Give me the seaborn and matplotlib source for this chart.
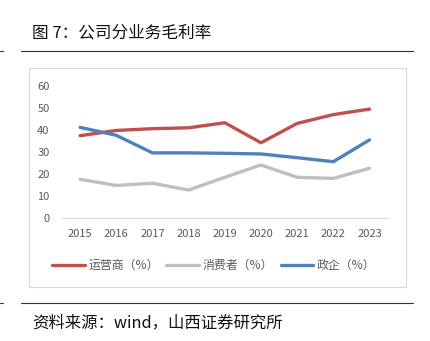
import matplotlib
matplotlib.use("Agg")
import matplotlib.pyplot as plt
from matplotlib.lines import Line2D
from matplotlib.patches import Rectangle
import pandas as pd
import seaborn as sns

# Gross margin by business line, 2015-2023 (%)
years = [2015, 2016, 2017, 2018, 2019, 2020, 2021, 2022, 2023]
operator = [37.4, 39.8, 40.6, 41.0, 43.3, 34.2, 43.0, 47.0, 49.5]
consumer = [17.6, 14.8, 15.8, 12.7, 18.5, 24.1, 18.5, 18.0, 22.6]
enterprise = [41.2, 37.6, 29.6, 29.6, 29.4, 29.1, 27.4, 25.6, 35.5]
series_names = ["运营商（%）", "消费者（%）", "政企（%）"]
colors = ["#C0504D", "#BFBFBF", "#4F81BD"]
y_ticks = [0, 10, 20, 30, 40, 50, 60]

sns.set_theme(style="white")
plt.rcParams["font.family"] = ["Noto Sans CJK SC", "DejaVu Sans"]

df = pd.DataFrame({
    "年份": years * 3,
    "毛利率": operator + consumer + enterprise,
    "业务": [series_names[0]] * 9 + [series_names[1]] * 9 + [series_names[2]] * 9,
})

W, H = 431, 341
fig = plt.figure(figsize=(W / 100, H / 100), dpi=100)
ax = fig.add_axes([62 / W, 1 - 218 / H, (387.6 - 62) / W, (218 - 86) / H])

sns.lineplot(data=df, x="年份", y="毛利率", hue="业务", palette=colors,
             linewidth=2.4, ax=ax, legend=False)

ax.set_xlim(2014.5, 2023.5)
ax.set_ylim(0, 60)
ax.set_xticks(years)
ax.set_yticks(y_ticks)
ax.set_xlabel("")
ax.set_ylabel("")
for s in ["top", "right", "left"]:
    ax.spines[s].set_visible(False)
ax.spines["bottom"].set_color("#D9D9D9")
ax.spines["bottom"].set_linewidth(0.9)
ax.tick_params(axis="both", length=0, labelsize=8, labelcolor="#595959")
ax.tick_params(axis="x", pad=8)
ax.tick_params(axis="y", pad=9)
ax.patch.set_alpha(0)

# Chart frame
fig.add_artist(Rectangle((29.5 / W, 1 - 287.3 / H), (405.7 - 29.5) / W, (287.3 - 68) / H,
                         transform=fig.transFigure, fill=False,
                         edgecolor="#D9D9D9", linewidth=0.8))

# Legend
handles = [Line2D([0], [0], color=c, linewidth=2.4) for c in colors]
fig.legend(handles, series_names, loc="center", bbox_to_anchor=(214 / W, 1 - 265.7 / H),
           ncol=3, frameon=False, fontsize=8.6, labelcolor="#595959",
           handlelength=2.7, handletextpad=0.35, columnspacing=0.6)

# Header and footer
fig.text(32 / W, 1 - 33 / H, "图 7：公司分业务毛利率", fontsize=12, color="#111111",
         va="center", ha="left")
fig.add_artist(Line2D([21 / W, 413 / W], [1 - 51 / H] * 2, color="#333333", linewidth=0.8))
fig.add_artist(Line2D([0, 3 / W], [1 - 51 / H] * 2, color="#333333", linewidth=0.8))
fig.add_artist(Line2D([21 / W, 413 / W], [1 - 303.3 / H] * 2, color="#333333", linewidth=0.8))
fig.add_artist(Line2D([0, 3 / W], [1 - 303.3 / H] * 2, color="#333333", linewidth=0.8))
fig.text(32 / W, 1 - 323 / H, "资料来源：wind，山西证券研究所", fontsize=11.8, color="#111111",
         va="center", ha="left")

fig.savefig("out.png", dpi=100, facecolor="white")
